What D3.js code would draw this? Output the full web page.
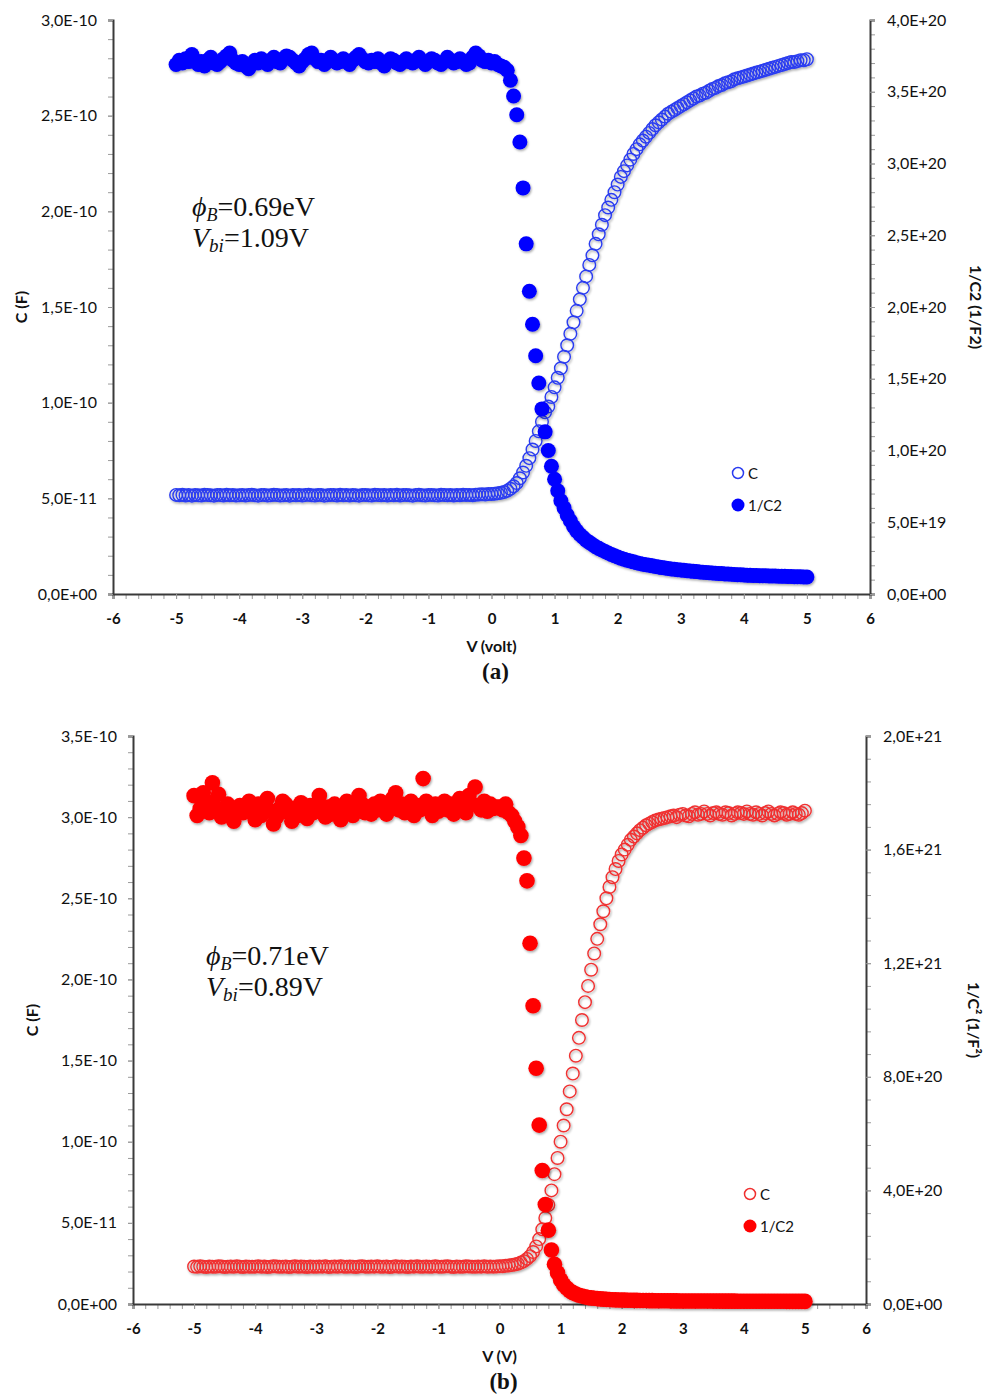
<!DOCTYPE html>
<html>
<head>
<meta charset="utf-8">
<script src="https://cdn.jsdelivr.net/npm/d3@7"></script>
<style>
  body { margin: 0; background: #fff; }
  svg text { font-family: Lato, "Open Sans", sans-serif; }
  svg text.serif { font-family: "Liberation Serif", "DejaVu Serif", serif; }
</style>
</head>
<body>
<svg id="fig" width="986" height="1396"></svg>
<script>
// bias sweep (V)
var volts = [
  -5,-4.95,-4.9,-4.85,-4.8,-4.75,-4.7,-4.65,-4.6,-4.55,-4.5,-4.45,-4.4,-4.35,-4.3,-4.25,-4.2,-4.15,-4.1,-4.05,
  -4,-3.95,-3.9,-3.85,-3.8,-3.75,-3.7,-3.65,-3.6,-3.55,-3.5,-3.45,-3.4,-3.35,-3.3,-3.25,-3.2,-3.15,-3.1,-3.05,
  -3,-2.95,-2.9,-2.85,-2.8,-2.75,-2.7,-2.65,-2.6,-2.55,-2.5,-2.45,-2.4,-2.35,-2.3,-2.25,-2.2,-2.15,-2.1,-2.05,
  -2,-1.95,-1.9,-1.85,-1.8,-1.75,-1.7,-1.65,-1.6,-1.55,-1.5,-1.45,-1.4,-1.35,-1.3,-1.25,-1.2,-1.15,-1.1,-1.05,
  -1,-0.95,-0.9,-0.85,-0.8,-0.75,-0.7,-0.65,-0.6,-0.55,-0.5,-0.45,-0.4,-0.35,-0.3,-0.25,-0.2,-0.15,-0.1,-0.05,
  0,0.05,0.1,0.15,0.2,0.25,0.3,0.35,0.4,0.45,0.5,0.55,0.6,0.65,0.7,0.75,0.8,0.85,0.9,0.95,
  1,1.05,1.1,1.15,1.2,1.25,1.3,1.35,1.4,1.45,1.5,1.55,1.6,1.65,1.7,1.75,1.8,1.85,1.9,1.95,
  2,2.05,2.1,2.15,2.2,2.25,2.3,2.35,2.4,2.45,2.5,2.55,2.6,2.65,2.7,2.75,2.8,2.85,2.9,2.95,
  3,3.05,3.1,3.15,3.2,3.25,3.3,3.35,3.4,3.45,3.5,3.55,3.6,3.65,3.7,3.75,3.8,3.85,3.9,3.95,
  4,4.05,4.1,4.15,4.2,4.25,4.3,4.35,4.4,4.45,4.5,4.55,4.6,4.65,4.7,4.75,4.8,4.85,4.9,4.95,5
]

// panel (a): C in pF, 1/C2 in 1e18 F^-2
var capA = [
  51.8,51.6,51.9,51.5,51.7,51.4,51.8,51.6,51.5,51.9,51.7,51.6,51.4,51.8,51.7,51.5,51.9,51.6,51.7,51.5,
  51.6,51.8,51.5,51.7,51.9,51.6,51.4,51.7,51.8,51.5,51.6,51.9,51.7,51.5,51.6,51.8,51.4,51.7,51.6,51.8,
  51.5,51.7,51.9,51.6,51.5,51.8,51.7,51.4,51.6,51.8,51.7,51.5,51.9,51.6,51.7,51.5,51.8,51.6,51.4,51.7,
  51.8,51.6,51.5,51.9,51.7,51.6,51.8,51.5,51.7,51.6,51.9,51.5,51.7,51.8,51.6,51.4,51.7,51.9,51.6,51.5,
  51.7,51.8,51.6,51.5,51.9,51.7,51.6,51.8,51.5,51.7,51.6,51.9,51.7,51.8,51.6,51.9,52.0,52.1,52.0,52.2,
  52.3,52.4,52.6,52.9,53.3,54.0,55.0,56.3,58.0,60.5,63.5,67,71,75.5,80,85,90,95,98,103,
  108,113,118,124,130,136,142,148,154,160,166,172,177,183,188,193,198,202,206,210,
  214,218,221,224,227,230,232.5,235,237,239,241,243,245,246.5,248,249.5,251,252,253,254,
  255,256,257,258,259,260,260.5,261.5,262,263,264,264.5,265.5,266,267,267.5,268,269,269.5,270,
  270.5,271,271.5,272,272.5,273,273.5,274,274.5,275,275.5,276,276.5,277,277.5,278,278,278.5,279,279,279.5
]
var invA = [
  369,372,370,373,371,376,372,369,371,368,372,374,370,369,371,373,375,377,372,370,
  369,371,368,366,369,372,370,373,371,369,372,374,371,370,373,375,374,372,370,368,
  371,373,376,377,373,371,372,369,371,374,372,370,371,373,371,369,372,374,376,373,
  371,370,372,371,373,370,368,371,373,372,370,369,371,373,371,370,372,374,371,369,
  371,373,372,370,369,371,374,372,370,371,373,371,369,370,374,377,375,372,371,372,
  370,371,369,368,367,365,358,347,334,315,283,244,211,188,166,147,129,113,100,89,
  80,72,65,60,55,51,47,44,41.5,39.5,37.5,36,34.5,33,31.8,30.7,29.6,28.6,27.6,26.7,
  25.8,25,24.3,23.6,23,22.4,21.8,21.3,20.8,20.4,20,19.6,19.2,18.8,18.4,18.1,17.8,17.5,17.2,16.9,
  16.7,16.5,16.2,16,15.8,15.6,15.4,15.2,15,14.8,14.6,14.5,14.3,14.2,14,13.9,13.8,13.6,13.5,13.4,
  13.2,13.1,13,12.95,12.9,12.8,12.75,12.7,12.6,12.55,12.5,12.4,12.35,12.3,12.25,12.2,12.1,12.05,12,11.9,11.8
]

// panel (b)
var capB = [
  23.1,22.9,23.2,23.0,22.8,23.1,23.0,22.9,23.2,23.1,22.8,23.0,23.1,22.9,23.2,23.0,22.8,23.1,23.0,22.9,
  23.0,23.2,22.9,23.1,22.8,23.0,23.2,23.1,22.9,23.0,23.1,22.8,23.0,23.2,22.9,23.1,23.0,22.8,23.1,23.0,
  22.9,23.1,23.0,23.2,22.8,23.0,23.1,22.9,23.2,23.0,22.9,23.1,23.0,22.8,23.1,23.2,23.0,22.9,23.1,23.0,
  23.2,22.9,23.0,23.1,22.8,23.0,23.2,22.9,23.1,23.0,22.8,23.1,23.0,23.2,22.9,23.0,23.1,22.9,23.0,23.2,
  23.0,22.9,23.1,23.2,23.0,22.8,23.1,23.0,22.9,23.2,23.1,23.0,22.9,23.1,23.0,23.2,22.9,23.1,23.0,23.1,
  23.2,23.3,23.5,23.7,24,24.3,24.8,25.5,26.4,27.8,29.5,32,35.5,40,46,53,61,70,80,90,
  100,110,120,131,142,153,164,175,186,196,206,216,225,234,242,250,257,263,268,273,
  277,280,283,286,288,290,292,293.5,295,296,297,298,298.5,299,299.5,300,300.5,301,300,301.5,
  302,301,300.5,302,303,301.5,302,303.5,302,301,302.5,303,302,301.5,303,302.5,301,302,303,302.5,
  302,303.5,302,301.5,303,302,301,302.5,303.5,302,301,302,303,302.5,301.5,302,303,302,301.5,302.5,304
]
var invB = [
  1790,1720,1745,1800,1770,1730,1835,1750,1795,1715,1740,1760,1735,1700,1725,1755,1730,1745,1770,1740,
  1705,1760,1720,1750,1780,1735,1690,1715,1745,1770,1760,1730,1700,1745,1720,1765,1740,1710,1755,1730,
  1760,1790,1740,1715,1750,1725,1760,1735,1705,1740,1770,1745,1720,1755,1790,1760,1730,1750,1725,1760,
  1740,1770,1750,1725,1760,1780,1800,1740,1760,1730,1745,1770,1720,1755,1740,1850,1770,1745,1720,1760,
  1735,1755,1770,1740,1760,1725,1750,1780,1745,1730,1790,1760,1820,1755,1740,1770,1735,1760,1745,1750,
  1750,1740,1760,1730,1720,1700,1680,1650,1570,1490,1270,1050,830,630,470,350,260,190,140,110,
  85,68,56,47,40,35,31,28,25.5,23,21.5,20,19,18,17,16.4,15.8,15.2,14.7,14.3,
  14,13.7,13.4,13.1,12.9,12.7,12.5,12.3,12.1,11.9,11.8,11.6,11.5,11.4,11.3,11.2,11.1,11,10.9,10.8,
  10.8,10.7,10.6,10.6,10.5,10.5,10.4,10.4,10.3,10.3,10.2,10.2,10.2,10.1,10.1,10,10,10,9.9,9.9,
  9.9,9.8,9.8,9.8,9.7,9.7,9.7,9.6,9.6,9.6,9.5,9.5,9.5,9.5,9.4,9.4,9.4,9.3,9.3,9.3,9.2
]

var xTicks = [-6,-5,-4,-3,-2,-1,0,1,2,3,4,5,6]
var leftTicksA = [0,50,100,150,200,250,300]
var leftLabelsA = ["0,0E+00","5,0E-11","1,0E-10","1,5E-10","2,0E-10","2,5E-10","3,0E-10"]
var rightTicksA = [0,50,100,150,200,250,300,350,400]
var rightLabelsA = ["0,0E+00","5,0E+19","1,0E+20","1,5E+20","2,0E+20","2,5E+20","3,0E+20","3,5E+20","4,0E+20"]
var leftTicksB = [0,50,100,150,200,250,300,350]
var leftLabelsB = ["0,0E+00","5,0E-11","1,0E-10","1,5E-10","2,0E-10","2,5E-10","3,0E-10","3,5E-10"]
var rightTicksB = [0,400,800,1200,1600,2000]
var rightLabelsB = ["0,0E+00","4,0E+20","8,0E+20","1,2E+21","1,6E+21","2,0E+21"]

var svg = d3.select('#fig')

svg.append('defs').append('filter')
    .attr('id', 'shadow').attr('x', '-5%').attr('y', '-5%').attr('width', '110%').attr('height', '110%')
  .append('feDropShadow')
    .attr('dx', 1).attr('dy', 1.5).attr('stdDeviation', 1)
    .attr('flood-color', '#000').attr('flood-opacity', 0.35)

function panel (cfg) {
  var g = svg.append('g')
  var x = d3.scaleLinear().domain([-6, 6]).range([cfg.left, cfg.right])
  var yL = d3.scaleLinear().domain([0, cfg.leftMax]).range([cfg.bottom, cfg.top])
  var yR = d3.scaleLinear().domain([0, cfg.rightMax]).range([cfg.bottom, cfg.top])

  // minor ticks
  g.append('g').attr('class', 'minor').attr('transform', `translate(0,${cfg.bottom})`)
    .call(d3.axisBottom(x).tickValues(d3.range(-6, 6.01, 0.2)).tickSize(5).tickFormat(''))
  g.append('g').attr('class', 'minor').attr('transform', `translate(${cfg.left},0)`)
    .call(d3.axisLeft(yL).tickValues(d3.range(0, cfg.leftMax + 0.01, cfg.leftMinor)).tickSize(5).tickFormat(''))
  g.append('g').attr('class', 'minor').attr('transform', `translate(${cfg.right},0)`)
    .call(d3.axisRight(yR).tickValues(d3.range(0, cfg.rightMax + 0.01, cfg.rightMinor)).tickSize(5).tickFormat(''))
  g.selectAll('.minor path').remove()
  g.selectAll('.minor line').attr('stroke', '#9a9a9a')

  // major axes
  var ax = g.append('g').attr('transform', `translate(0,${cfg.bottom})`)
    .call(d3.axisBottom(x).tickValues(xTicks).tickSize(5).tickPadding(14).tickFormat(d => String(d)))
  ax.selectAll('text').attr('font-size', 15).attr('font-weight', 700).attr('fill', '#111')
  var al = g.append('g').attr('transform', `translate(${cfg.left},0)`)
    .call(d3.axisLeft(yL).tickValues(cfg.leftTicks).tickSize(5).tickPadding(11)
      .tickFormat((d, i) => cfg.leftLabels[i]))
  var ar = g.append('g').attr('transform', `translate(${cfg.right},0)`)
    .call(d3.axisRight(yR).tickValues(cfg.rightTicks).tickSize(5).tickPadding(12)
      .tickFormat((d, i) => cfg.rightLabels[i]))
  ;[al, ar].forEach(a => a.selectAll('text').attr('font-size', 16).attr('fill', '#111'))
  ;[ax, al, ar].forEach(a => {
    a.select('.domain').attr('stroke', '#3a3a3a').attr('stroke-width', 2)
    a.selectAll('.tick line').attr('stroke', '#9a9a9a')
  })

  // open C circles
  var pts = volts.map((v, i) => ({ v: v, c: cfg.cap[i], inv: cfg.inv[i] }))
  g.append('g').attr('filter', 'url(#shadow)')
    .selectAll('circle').data(pts).enter().append('circle')
      .attr('cx', d => x(d.v))
      .attr('cy', d => yL(d.c))
      .attr('r', 6.3)
      .attr('fill', 'none')
      .attr('stroke', cfg.openColor)
      .attr('stroke-width', 1.4)

  // filled 1/C2 dots
  g.append('g').attr('filter', 'url(#shadow)')
    .selectAll('circle').data(pts).enter().append('circle')
      .attr('cx', d => x(d.v))
      .attr('cy', d => yR(d.inv))
      .attr('r', cfg.dotR)
      .attr('fill', cfg.color)

  // legend
  var lg = g.append('g').attr('transform', `translate(${cfg.legX},${cfg.legY})`)
  lg.append('circle').attr('cx', 0).attr('cy', 0).attr('r', 5.5)
    .attr('fill', 'none').attr('stroke', cfg.openColor).attr('stroke-width', 1.5)
  lg.append('circle').attr('cx', 0).attr('cy', 32).attr('r', 6.5).attr('fill', cfg.color)
  lg.append('text').attr('x', 10).attr('y', 5.5).attr('font-size', 15).attr('fill', '#111').text('C')
  lg.append('text').attr('x', 10).attr('y', 37.5).attr('font-size', 15).attr('fill', '#111').text('1/C2')

  // axis titles
  g.append('text').attr('x', (cfg.left + cfg.right) / 2).attr('y', cfg.bottom + 58)
    .attr('text-anchor', 'middle').attr('font-size', 16).attr('font-weight', 700).attr('fill', '#111')
    .text(cfg.xTitle)
  g.append('text').attr('transform', `translate(${cfg.leftTitleX},${(cfg.top + cfg.bottom) / 2}) rotate(-90)`)
    .attr('text-anchor', 'middle').attr('font-size', 16).attr('font-weight', 700).attr('fill', '#111')
    .text('C (F)')
  g.append('text').attr('transform', `translate(${cfg.rightTitleX},${(cfg.top + cfg.bottom) / 2}) rotate(90)`)
    .attr('text-anchor', 'middle').attr('font-size', 16).attr('font-weight', 700).attr('fill', '#111')
    .text(cfg.rightTitle)
  g.append('text').attr('class', 'serif')
    .attr('x', (cfg.left + cfg.right) / 2 + 4).attr('y', cfg.bottom + 85)
    .attr('text-anchor', 'middle')
    .attr('font-size', 23).attr('font-weight', 700).attr('fill', '#111')
    .text(cfg.tag)

  // annotation
  var an = g.append('g').attr('fill', '#111')
  var t1 = an.append('text').attr('class', 'serif').attr('x', cfg.annX).attr('y', cfg.annY).attr('font-size', 28)
  t1.append('tspan').attr('font-style', 'italic').text('ϕ')
  t1.append('tspan').attr('font-style', 'italic').attr('font-size', 18).attr('dy', 5).text('B')
  t1.append('tspan').attr('dy', -5).text(cfg.phi)
  var t2 = an.append('text').attr('class', 'serif').attr('x', cfg.annX).attr('y', cfg.annY + 31).attr('font-size', 28)
  t2.append('tspan').attr('font-style', 'italic').text('V')
  t2.append('tspan').attr('font-style', 'italic').attr('font-size', 19).attr('dy', 5).text('bi')
  t2.append('tspan').attr('dy', -5).text(cfg.vbi)
}

panel({
  left: 113, right: 870, top: 20, bottom: 594,
  leftMax: 300, rightMax: 400, leftMinor: 10, rightMinor: 10,
  leftTicks: leftTicksA, leftLabels: leftLabelsA,
  rightTicks: rightTicksA, rightLabels: rightLabelsA,
  cap: capA, inv: invA, color: '#0000ff', openColor: '#2a3cf0', dotR: 7.5,
  legX: 738, legY: 473,
  xTitle: 'V (volt)', rightTitle: '1/C2  (1/F2)', tag: '(a)',
  leftTitleX: 27, rightTitleX: 970,
  annX: 192, annY: 216, phi: '=0.69eV', vbi: '=1.09V'
})

panel({
  left: 133, right: 866, top: 736, bottom: 1304,
  leftMax: 350, rightMax: 2000, leftMinor: 10, rightMinor: 80,
  leftTicks: leftTicksB, leftLabels: leftLabelsB,
  rightTicks: rightTicksB, rightLabels: rightLabelsB,
  cap: capB, inv: invB, color: '#ff0000', openColor: '#f03030', dotR: 7.8,
  legX: 750, legY: 1194,
  xTitle: 'V (V)', rightTitle: '1/C²  (1/F²)', tag: '(b)',
  leftTitleX: 38, rightTitleX: 968,
  annX: 206, annY: 965, phi: '=0.71eV', vbi: '=0.89V'
})
</script>
</body>
</html>
